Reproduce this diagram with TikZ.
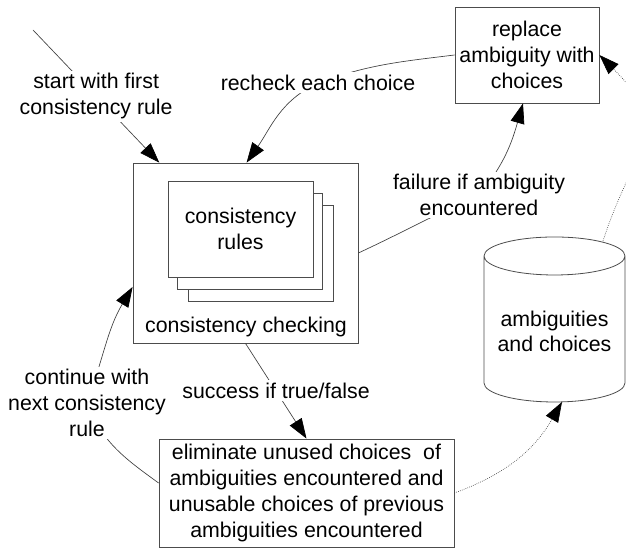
\documentclass[tikz,border=0pt]{standalone}
\usepackage{fontspec}
\setmainfont{Liberation Sans}
\usetikzlibrary{arrows.meta}

\begin{document}
\begin{tikzpicture}[x=0.75pt,y=0.75pt,
  every node/.style={font=\fontsize{16}{19.3}\selectfont},
  box/.style={draw=black!70, line width=0.6pt, fill=white, align=center, inner sep=2pt},
  lbl/.style={fill=white, align=center, inner sep=2pt},
  flow/.style={draw=black!75, line width=0.5pt, -{Triangle[length=15pt,width=10.5pt,black]}},
  dotflow/.style={flow, densely dotted}]
\useasboundingbox (0,0) rectangle (626,548);

% the checking box with its stack of rules
\node[box, minimum width=168.75pt, minimum height=135pt] (cons) at (245.5,295) {};
\node[box, minimum width=108.75pt, minimum height=72pt] (rules3) at (260.5,294.5) {};
\node[box, minimum width=108.75pt, minimum height=72pt] (rules2) at (249.5,307) {};
\node[box, minimum width=108.75pt, minimum height=72pt] (rules) at (240.5,319) {consistency\\rules};
\node[lbl] (checking) at (246,221) {consistency checking};

\node[box, minimum width=108pt, minimum height=72pt] (replace) at (527,493) {replace\\ambiguity with\\choices};
\node[box, minimum width=221.25pt, minimum height=81pt] (bottom) at (306.5,55)
  {eliminate unused choices\ \ of\\ambiguities encountered and\\unusable choices of previous\\ambiguities encountered};

% store of ambiguities
\node[align=center] (store) at (554.5,216.5) {ambiguities\\and choices};
\draw[draw=black!70, line width=0.6pt] ([shift={(-70.5,75.5)}]store.center) -- ([shift={(-70.5,-51.5)}]store.center)
  arc[start angle=180, end angle=360, x radius=52.875pt, y radius=14.25pt]
  -- ([shift={(70.5,75.5)}]store.center)
  arc[start angle=0, end angle=360, x radius=52.875pt, y radius=14.25pt];

\coordinate (entry) at (33,518);
\draw[flow] (entry) -- node[lbl]{start with first\\consistency rule} ([xshift=20pt]cons.north west);

\draw[flow] (replace.west) to[out=187,in=20] (318,465) node[lbl]{recheck each choice}
  to[out=205,in=55] ([xshift=85.5pt]cons.north west);

\draw[flow] (cons.east) to[out=25,in=204] (479,353) node[lbl]{failure if ambiguity\\encountered}
  to[out=50,in=254] ([xshift=-3pt]replace.south);

\draw[flow] ([yshift=7.5pt]bottom.west) to[out=144,in=291] (87,145) node[lbl]{continue with\\next consistency\\rule}
  to[out=70,in=239] ([yshift=-25.5pt]cons.west);

\draw[flow] (cons.south) -- node[lbl]{success if true/false} (bottom.north);

\draw[dotflow] (bottom.east) to[out=20,in=240] ([shift={(7.5,-70.5)}]store.center);
\draw[dotflow] ([shift={(48.5,90.5)}]store.center) to[out=72,in=-45,looseness=1.5] (replace.east);
\end{tikzpicture}
\end{document}
